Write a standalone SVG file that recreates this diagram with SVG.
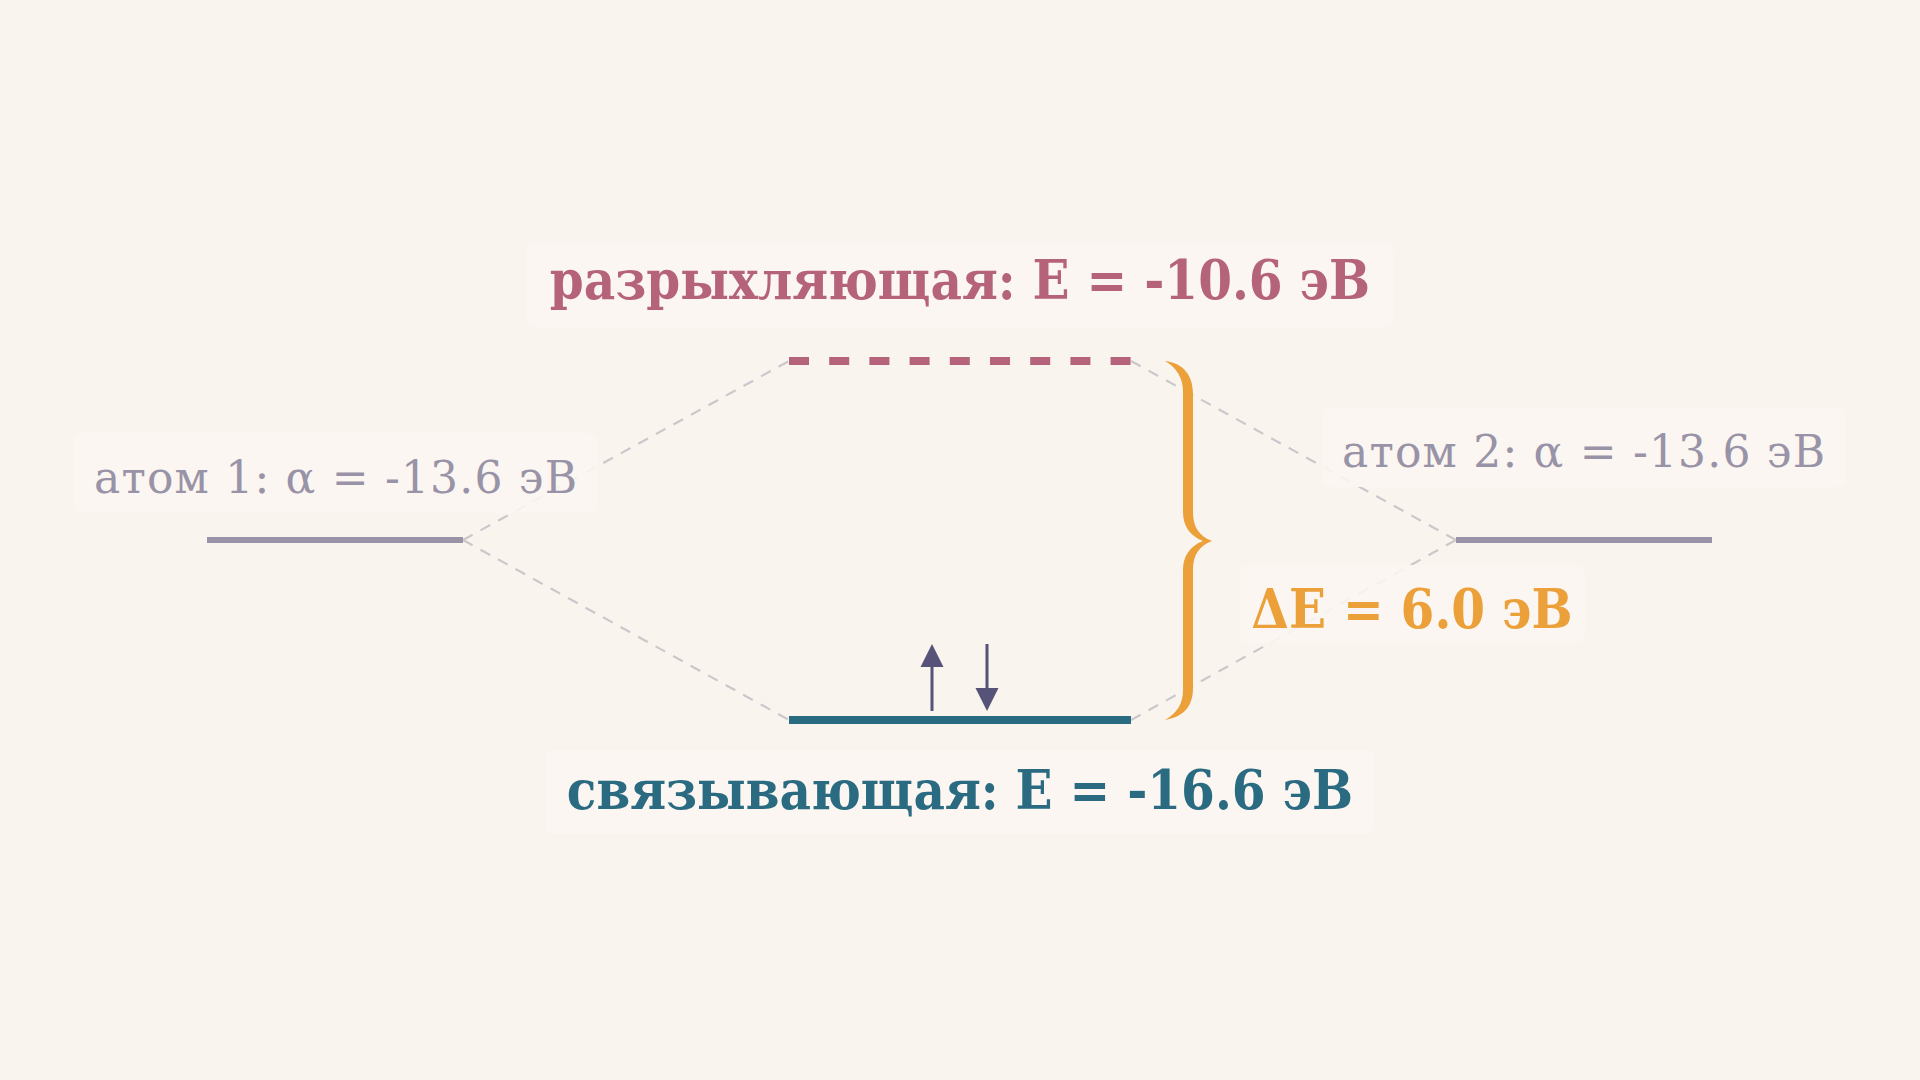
<svg xmlns="http://www.w3.org/2000/svg" width="1920" height="1080" viewBox="0 0 1920 1080">
<defs>
<style>
.bg{fill:#faf4ee}
.halo{fill:#fbf6f1;opacity:0.88}
.conn{stroke:#cbc8cc;stroke-width:2.2;stroke-dasharray:11 9;fill:none}
.atom{stroke:#9993a8;stroke-width:6;fill:none}
.atomtxt{font-family:"DejaVu Serif","Liberation Serif",serif;font-size:44px;fill:#9993a8}
.big{font-family:"DejaVu Serif Condensed","DejaVu Serif","Liberation Serif",serif;font-stretch:condensed;font-size:54px;font-weight:bold;text-anchor:middle}
.el{stroke:#565278;stroke-width:3;fill:none}
.head{fill:#565278}
</style>
</defs>
<rect class="bg" x="0" y="0" width="1920" height="1080"/>

<g id="connectors">
<line class="conn" x1="463" y1="540" x2="789" y2="361"/>
<line class="conn" x1="463" y1="540" x2="789" y2="720"/>
<line class="conn" x1="1131" y1="361" x2="1456" y2="540"/>
<line class="conn" x1="1131" y1="720" x2="1456" y2="540"/>
</g>

<g id="atom1">
<line class="atom" x1="207" y1="540" x2="463" y2="540"/>
<rect class="halo" x="73" y="433" width="524" height="80" rx="8"/>
<text class="atomtxt" x="94" y="493" textLength="483" lengthAdjust="spacing">атом 1: α = -13.6 эВ</text>
</g>

<g id="atom2">
<line class="atom" x1="1456" y1="540" x2="1712" y2="540"/>
<rect class="halo" x="1322" y="407" width="524" height="80" rx="8"/>
<text class="atomtxt" x="1342" y="467" textLength="483" lengthAdjust="spacing">атом 2: α = -13.6 эВ</text>
</g>

<g id="antibonding">
<line x1="789" y1="361" x2="1131" y2="361" stroke="#b5637a" stroke-width="8" stroke-dasharray="20 20.2"/>
<rect class="halo" x="527" y="243" width="866" height="84" rx="8"/>
<text class="big" x="960" y="299" fill="#b5637a">разрыхляющая: E = -10.6 эВ</text>
</g>

<g id="bonding">
<line x1="789" y1="720" x2="1131" y2="720" stroke="#2a6b82" stroke-width="8"/>
<rect class="halo" x="546" y="750" width="828" height="84" rx="8"/>
<text class="big" x="960" y="809" fill="#2a6b82">связывающая: E = -16.6 эВ</text>
</g>

<g id="electrons">
<line class="el" x1="932" y1="711" x2="932" y2="666"/>
<polygon class="head" points="932,644 920.5,667 943.5,667"/>
<line class="el" x1="987" y1="644" x2="987" y2="689"/>
<polygon class="head" points="987,711 975.5,688 998.5,688"/>
</g>

<g id="gap">
<path fill="#eba03a" d="M1165,361 C1183,363 1193,375 1193,394 L1193,512 C1193,527 1199,536 1212,541 C1199,546 1193,555 1193,570 L1193,688 C1193,707 1183,717 1165,720 C1177,713 1183,704 1183,690 L1183,570 C1183,556 1190,546 1203,541 C1190,536 1183,526 1183,512 L1183,392 C1183,378 1177,368 1165,361 Z"/>
<rect class="halo" x="1240" y="565" width="345" height="78" rx="8"/>
<text class="big" x="1412" y="628" fill="#eba03a">ΔE = 6.0 эВ</text>
</g>
</svg>
